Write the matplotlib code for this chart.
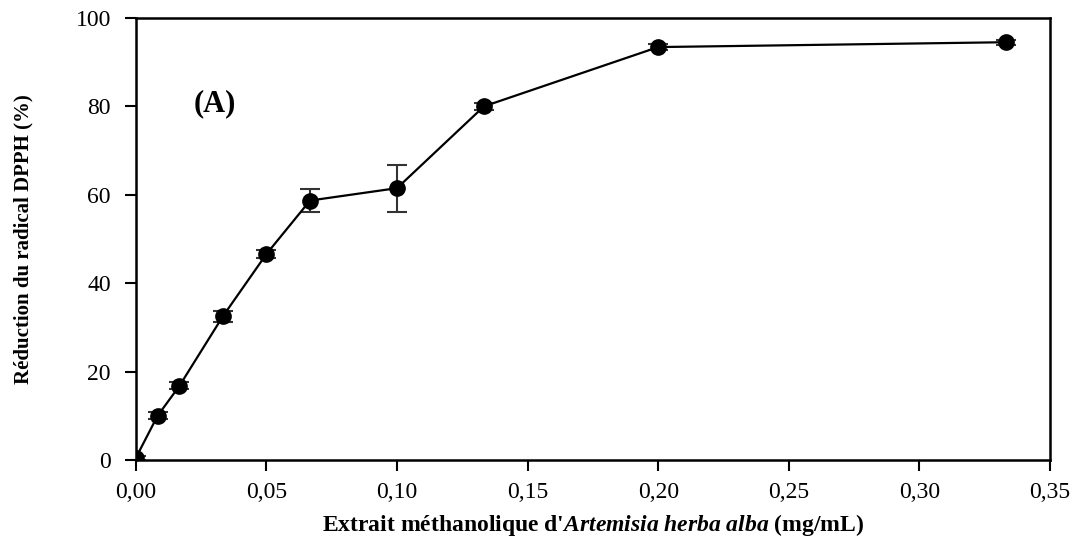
import matplotlib.pyplot as plt
from matplotlib.ticker import FuncFormatter

# données
conc = [0.0, 0.0083, 0.0167, 0.0333, 0.05, 0.0667, 0.1, 0.1333, 0.2, 0.3333]
reduction = [0.5, 10.0, 16.8, 32.5, 46.6, 58.7, 61.5, 80.0, 93.4, 94.5]
erreur = [0.5, 0.8, 0.8, 1.2, 1.0, 2.5, 5.3, 0.8, 0.6, 0.6]
x_ticks = [0.0, 0.05, 0.10, 0.15, 0.20, 0.25, 0.30, 0.35]
y_ticks = [0, 20, 40, 60, 80, 100]

plt.rcParams['font.family'] = ['Liberation Serif', 'DejaVu Serif']
plt.rcParams['mathtext.fontset'] = 'custom'
plt.rcParams['mathtext.rm'] = 'Liberation Serif'
plt.rcParams['mathtext.it'] = 'Liberation Serif:italic'
plt.rcParams['mathtext.bf'] = 'Liberation Serif:bold'
plt.rcParams['mathtext.bfit'] = 'Liberation Serif:italic:bold'

fig = plt.figure(figsize=(10.78, 5.42), dpi=100)
ax = fig.add_axes([0.126, 0.151, 0.848, 0.816])

ax.errorbar(conc, reduction, yerr=erreur, color='black', marker='o',
            markersize=11, linewidth=1.6, capsize=7, capthick=1.5,
            elinewidth=1.5, ecolor='#333333')

ax.set_xlim(0, 0.35)
ax.set_ylim(0, 100)
ax.set_xticks(x_ticks)
ax.set_yticks(y_ticks)
ax.xaxis.set_major_formatter(FuncFormatter(lambda v, p: f"{v:.2f}".replace('.', ',')))
ax.tick_params(direction='out', length=8, width=1.5, labelsize=17)
ax.tick_params(axis='y', pad=10)
ax.tick_params(axis='x', pad=8)
for s in ax.spines.values():
    s.set_linewidth(1.8)

ax.set_xlabel("Extrait méthanolique d'$\\mathbfit{Artemisia\\ herba\\ alba}$ (mg/mL)",
              fontsize=17, fontweight='bold', labelpad=6)
ax.set_ylabel("Réduction du radical DPPH (%)", fontsize=15, fontweight='bold', labelpad=30)
ax.text(0.022, 79, "(A)", fontsize=22, fontweight='bold')

plt.savefig("out.png", dpi=100)
